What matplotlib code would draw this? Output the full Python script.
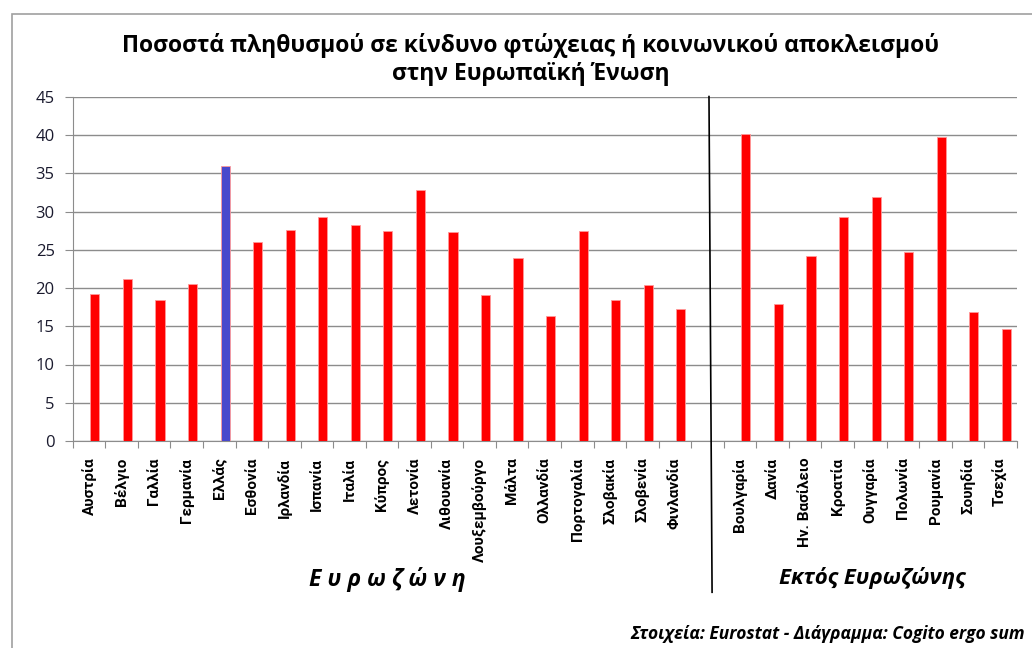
import numpy as np
import matplotlib
matplotlib.use('Agg')
import matplotlib.pyplot as plt
from matplotlib.lines import Line2D
from matplotlib.patches import Rectangle

plt.rcParams['font.family'] = ['Open Sans', 'DejaVu Sans']

# Δεδομένα (%)
eurozone = ['Αυστρία', 'Βέλγιο', 'Γαλλία', 'Γερμανία', 'Ελλάς', 'Εσθονία', 'Ιρλανδία',
            'Ισπανία', 'Ιταλία', 'Κύπρος', 'Λετονία', 'Λιθουανία', 'Λουξεμβούργο',
            'Μάλτα', 'Ολλανδία', 'Πορτογαλία', 'Σλοβακία', 'Σλοβενία', 'Φινλανδία']
eurozone_vals = [19.2, 21.2, 18.5, 20.5, 36.0, 26.0, 27.6, 29.3, 28.3, 27.4,
                 32.8, 27.3, 19.1, 23.9, 16.4, 27.4, 18.4, 20.4, 17.2]
outside = ['Βουλγαρία', 'Δανία', 'Ην. Βασίλειο', 'Κροατία', 'Ουγγαρία', 'Πολωνία',
           'Ρουμανία', 'Σουηδία', 'Τσεχία']
outside_vals = [40.2, 17.9, 24.2, 29.3, 31.9, 24.7, 39.7, 16.9, 14.7]

labels = eurozone + [''] + outside
values = eurozone_vals + [np.nan] + outside_vals
colors = ['#4848CC' if l == 'Ελλάς' else '#FF0000' for l in labels]

fig = plt.figure(figsize=(10.32, 6.48), dpi=100)
ax = fig.add_axes([0.0705, 0.3195, 0.9147, 0.5310])

x = np.arange(len(labels))
ax.bar(x + 0.18, values, width=0.28, color=colors, edgecolor='#FF9999', linewidth=0.6, zorder=3)

ax.set_xlim(-0.5, len(labels) - 0.5)
ax.set_ylim(0, 45)
ax.set_yticks(np.arange(0, 46, 5))
ax.yaxis.grid(True, color='#8c8c8c', linewidth=1.0, zorder=0)

for s in ['top', 'right']:
    ax.spines[s].set_visible(False)
ax.spines['left'].set_color('#8c8c8c')
ax.spines['bottom'].set_color('#8c8c8c')

# τικ στα όρια των κατηγοριών
ax.set_xticks(np.arange(len(labels) + 1) - 0.5, minor=False)
ax.set_xticklabels([])
ax.set_xticks(x, minor=True)
ax.set_xticklabels(labels, minor=True, rotation=90, fontsize=11, fontweight='bold',
                   family=['Liberation Sans Narrow', 'Roboto', 'DejaVu Sans'])
ax.tick_params(axis='x', which='minor', length=0, pad=12)
ax.tick_params(axis='x', which='major', length=5, color='#8c8c8c')
ax.tick_params(axis='y', length=6, color='#8c8c8c', labelsize=12, labelcolor='#1a1a2e', pad=7)

# κάθετη διαχωριστική γραμμή
fig.add_artist(Line2D([0.687, 0.690], [0.851, 0.086], color='black', linewidth=1.2))

fig.text(0.514, 0.930, 'Ποσοστά πληθυσμού σε κίνδυνο φτώχειας ή κοινωνικού αποκλεισμού',
         ha='center', va='center', fontsize=16.5, fontweight='bold')
fig.text(0.514, 0.886, 'στην Ευρωπαϊκή Ένωση', ha='center', va='center', fontsize=16.5, fontweight='bold')

fig.text(0.375, 0.105, 'Ε υ ρ ω ζ ώ ν η', ha='center', va='center', fontsize=16.5,
         fontweight='bold', style='italic')
fig.text(0.845, 0.108, 'Εκτός Ευρωζώνης', ha='center', va='center', fontsize=16,
         fontweight='bold', style='italic')
fig.text(0.993, 0.022, 'Στοιχεία: Eurostat - Διάγραμμα: Cogito ergo sum', ha='right', va='center',
         fontsize=12.5, fontweight='bold', style='italic')

# πλαίσιο περιοχής γραφήματος
fig.add_artist(Rectangle((0.0115, -0.01), 1.0, 0.989, fill=False, edgecolor='#a0a0a0',
                         linewidth=1.2, transform=fig.transFigure))

fig.savefig('out.png', dpi=100)
